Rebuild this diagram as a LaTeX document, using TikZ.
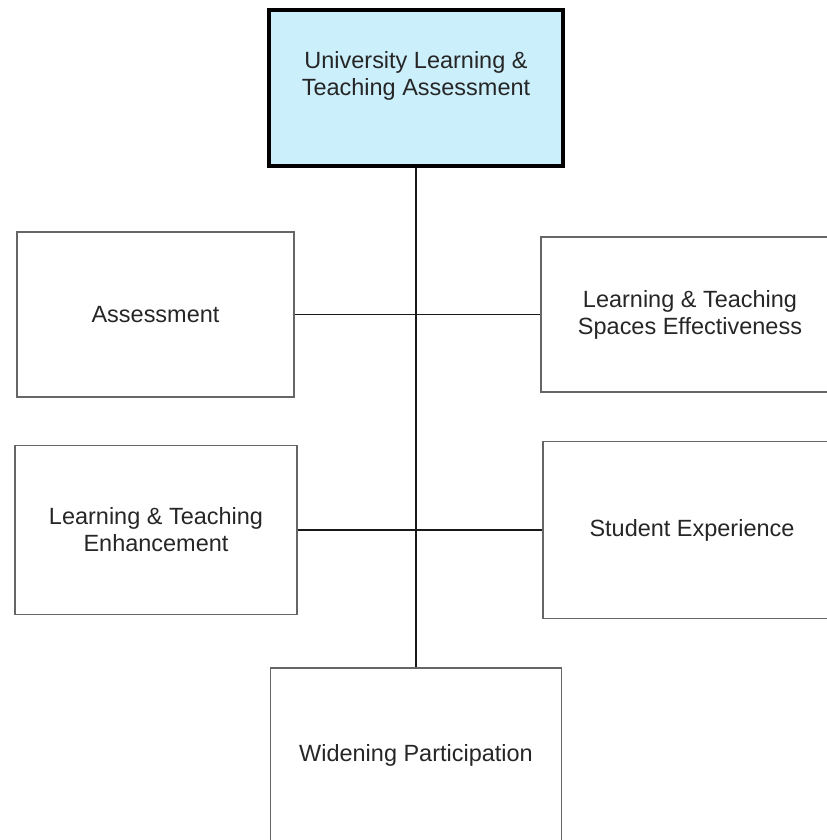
\documentclass[tikz,border=0pt]{standalone}
\usepackage{fontspec}
\setmainfont{Liberation Sans}
\begin{document}
\begin{tikzpicture}
\tikzstyle{texte} = [align=center,text=black!85,font=\fontsize{16.7}{19.2}\selectfont];
\tikzstyle{boite} = [texte,draw=black!60,line width=1.3pt,rectangle,inner sep=0pt];
\tikzstyle{haut} = [boite,draw=black,line width=2.2pt,fill=cyan!20];
\tikzstyle{lien} = [black!90,line width=1pt];

\useasboundingbox (0,0) rectangle (20.675,21);

% la tete
\node[haut,minimum width=7.35cm,minimum height=3.9cm] (ulta) at (10.4,18.8) {};
\node[texte] (ultatexte) at (10.4,19.09) {University Learning \&\\Teaching Assessment};

% les unites
\node[boite,minimum width=6.925cm,minimum height=4.125cm] (assess) at (3.8875,13.1375) {Assessment};
\node[boite,minimum width=7.45cm,minimum height=3.875cm] (espaces) at (17.25,13.1375) {Learning \& Teaching\\Spaces Effectiveness};
\node[boite,minimum width=7.05cm,minimum height=4.225cm] (enhance) at (3.9,7.75) {Learning \& Teaching\\Enhancement};
\node[boite,minimum width=7.45cm,minimum height=4.425cm] (etudiant) at (17.3,7.75) {Student Experience};
\node[boite,minimum width=7.275cm,minimum height=4.35cm] (widening) at (10.4,2.125) {Widening Participation};

\draw[lien] (ulta.south) -- (widening.north);
\draw[lien] (assess.east) -- (espaces.west);
\draw[lien] (enhance.east) -- (etudiant.west);

\end{tikzpicture}
\end{document}
